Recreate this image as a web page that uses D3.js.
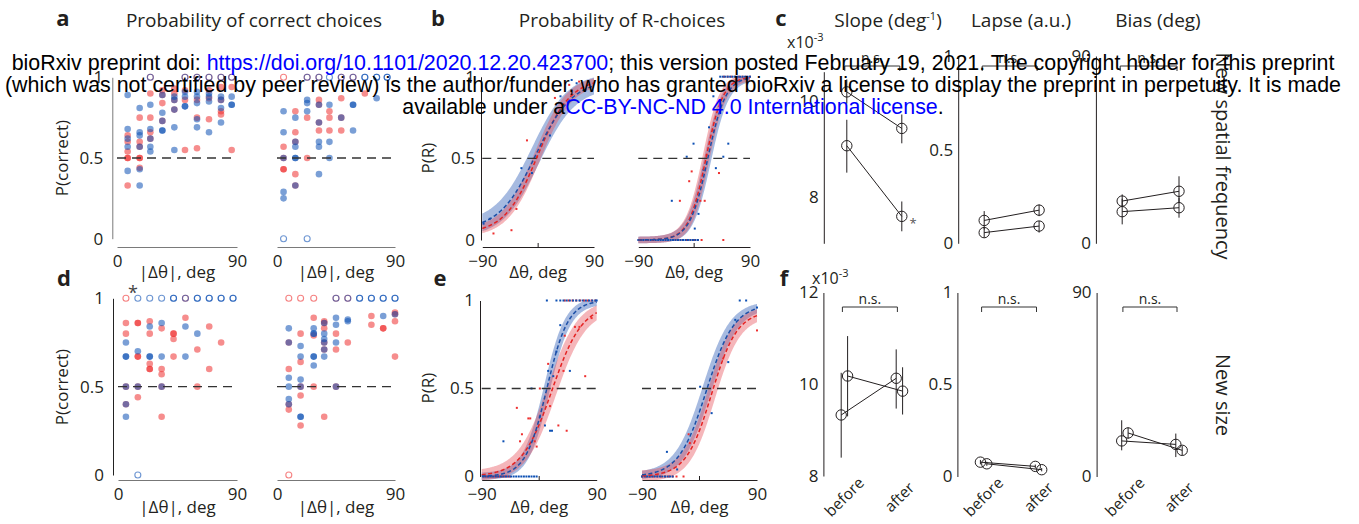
<!DOCTYPE html>
<html>
<head>
<meta charset="utf-8">
<script src="https://cdn.jsdelivr.net/npm/d3@7"></script>
<style>
  body { margin: 0; background: #fff; }
  svg text { font-family: "Open Sans", Lato, sans-serif; fill: #231f20; }
</style>
</head>
<body>
<svg id="chart"></svg>
<script>
// ---- panel a / d : P(correct) per |dtheta| bin ----
const aLeftBins = [8, 17, 25, 34, 43, 51, 60, 69, 78, 86];
const aRightBins = [5, 14, 23, 32, 40, 49, 58, 67, 76, 84];
const dLeftBins = [6, 15, 24, 33, 42, 51, 60, 69, 78, 87];
const dRightBins = [9, 18, 28, 36, 45, 54, 63, 72, 81, 90];

const aLeftRed = [[0.64, 0.60, 0.54, 0.50, 0.50, 0.33], [0.75, 0.60, 0.57, 0.50, 0.50, 0.44], [1, 0.90, 0.75, 0.66, 0.62],
  [0.92, 0.89, 0.84, 0.73], [0.93, 0.90, 0.86, 0.80], [1, 0.92, 0.86, 0.55], [1, 0.86, 0.75, 0.56],
  [1, 0.92, 0.87, 0.74], [1, 0.94, 0.86, 0.79, 0.77], [1, 0.94, 0.55]];
const aLeftBlue = [[0.89, 0.68, 0.62, 0.57, 0.42], [0.81, 0.66, 0.64, 0.57, 0.43, 0.33], [1, 0.83, 0.68, 0.62, 0.57, 0.54],
  [0.89, 0.78, 0.73, 0.67, 0.67], [0.88, 0.86, 0.80, 0.69, 0.55], [1, 0.91, 0.88, 0.82, 0.82], [1, 0.91, 0.88, 0.84, 0.74, 0.69],
  [1, 0.90, 0.88, 0.85, 0.66], [1, 0.88, 0.86, 0.81, 0.72], [1, 0.88, 0.83, 0.83]];
const aRightRed = [[1, 0.57, 0.50, 0.43, 0.43], [0.79, 0.66, 0.60, 0.40, 0.33], [1, 0.75, 0.50], [1, 0.86, 0.83, 0.72, 0.67],
  [0.79, 0.75, 0.67], [1, 0.87, 0.75, 0.67], [1], [0.90], [], []];
const aRightBlue = [[0.79, 0.66, 0.50, 0.29, 0.25, 0], [0.75, 0.60, 0.57, 0.50, 0.50, 0.33], [1, 0.86, 0.84, 0.79, 0],
  [1, 0.83, 0.72, 0.60, 0.57, 0.40], [1, 0.83, 0.60, 0.50], [1, 0.75], [1, 0.83, 0.83, 0.67], [1, 1], [1, 1, 0.87], [1, 1]];
const dLeftRed = [[1, 0.86, 0.80, 0.50, 0.40], [0.86, 0.86, 0.67, 0.67, 0.50, 0.44], [0.87, 0.80, 0.63, 0.60, 0.60],
  [0.83, 0.60, 0.57, 0.50, 0.33], [0.80, 0.80, 0.77, 0.67], [1, 0.89], [0.71, 0.50], [0.84, 0.60], [0.75], []];
const dLeftBlue = [[0.75, 0.67, 0.67, 0.50, 0.40, 0.33], [1, 0.70, 0.50, 0], [1, 0.84, 0.67, 0.67], [1, 0.86, 0.67, 0.50],
  [1, 1], [1, 0.84, 0.67], [1, 1, 0.80], [1, 1], [1, 1], [1, 1]];
const dRightRed = [[1, 0.75, 0.60, 0.40, 0.37, 0], [1, 0.80, 0.64, 0.50, 0.45, 0.28], [1, 0.89, 0.79, 0.50],
  [0.87, 0.86, 0.83, 0.75, 0.71, 0.33], [1, 0.80, 0.71, 0.50], [1, 0.75], [], [0.90, 0.85], [0.83, 0.83], [0.92, 0.91, 0.87, 0.67]];
const dRightBlue = [[0.83, 0.75, 0.55, 0.50, 0.43, 0.40], [0.73, 0.67, 0.54, 0.50, 0.33, 0.33], [0.83, 0.80, 0.80, 0.67, 0.67, 0.62],
  [0.86, 0.80, 0.77, 0.75, 0.71, 0.67], [1, 0.89, 0.85, 0.75, 0.50], [1, 0.88, 0.87], [1, 1], [1, 1], [1, 1, 0.90], [1, 1, 0.91]];

// ---- panel b / e : psychometric fits [bias, slope, guess, lapse] and CI band [shift, pad] ----
const bLeftRedFit = [-1, 0.038, 0.04, 0.01], bLeftBlueFit = [-4, 0.034, 0.06, 0.02];
const bRightRedFit = [19, 0.072, 0, 0], bRightBlueFit = [22, 0.069, 0, 0];
const eLeftRedFit = [20, 0.042, 0, 0.02], eLeftBlueFit = [12, 0.06, 0, 0];
const eRightRedFit = [19, 0.05, 0, 0.06], eRightBlueFit = [11, 0.046, 0, 0.02];
const bLeftRedBand = [4, 0.025], bLeftBlueBand = [6, 0.045];
const bRightRedBand = [5, 0.02], bRightBlueBand = [5, 0.02];
const eLeftRedBand = [6, 0.03], eLeftBlueBand = [4, 0.02];
const eRightRedBand = [5, 0.03], eRightBlueBand = [6, 0.02];

const bLeftRedDots = [[-72, 0.04], [-43, 0.06], [-35, 0.19], [-18, 0.61], [-2, 0.51], [27, 0.87], [50, 0.95], [66, 0.97]];
const bLeftBlueDots = [[-88, 0.10], [-78, 0.13], [-27, 0.44], [-10, 0.41], [19, 0.64], [36, 0.88], [54, 0.98], [62, 0.96]];
const bRightRedZero = [-34, -30, -26, -22, -18, -12, -6, 0, 6, 12, 47];
const bRightBlueZero = [-90, -86, -82, -78, -74, -70, -66, -62, -58, -54, -50, -46, -42, -38, -34, -30, -26, -22, -18, -14, -10, -6, -2, 2, 6];
const bRightRedOne = [48, 54, 60, 66, 72, 78, 84, 90];
const bRightBlueOne = [42, 46, 50, 54, 58, 62, 66, 70, 74, 78, 82, 86, 90];
const bRightRedMid = [[-23, 0.24], [-8, 0.36], [-4, 0.42], [4, 0.24], [10, 0.24], [17, 0.24], [20, 0.52], [31, 0.67], [40, 0.41]];
const bRightBlueMid = [[-36, 0.24], [-12, 0.51], [-1, 0.59], [1, 0.07], [7, 0.16], [15, 0.43], [24, 0.69], [31, 0.88], [35, 0.44], [47, 0.51], [55, 0.59]];
const eLeftRedZero = [-86, -82, -78, -74, -70, -66, -62, -58, -54, -50, -46];
const eLeftBlueZero = [-88, -84, -80, -76, -72, -68, -64, -60, -56, -52, -48, -44, -40, -36, -32, -28, -24, -20, -16, -12, -8, -4];
const eLeftRedOne = [40, 46, 52, 58, 64, 70, 76, 82, 88];
const eLeftBlueOne = [12, 27, 33, 38, 43, 48, 53, 58, 63, 68, 73, 78, 83, 88, 90];
const eLeftRedMid = [[-35, 0.39], [-30, 0.20], [-27, 0.24], [-17, 0.33], [-14, 0.33], [-7, 0.20], [-4, 0.17], [1, 0.50], [14, 0.64],
  [17, 0.40], [30, 0.29], [38, 0.60], [40, 0.80], [43, 0.26], [56, 0.85], [63, 0.85], [72, 0.57], [82, 0.90]];
const eLeftBlueMid = [[-56, 0.20], [-12, 0.50], [1, 0.34], [9, 0.29], [17, 0.26], [20, 0.26], [14, 0.60], [22, 0.57], [27, 0.71], [33, 0.86], [48, 0.60]];
const eRightRedZero = [-90, -84, -78, -72, -66, -60, -54, -48, -42, -36, -25];
const eRightBlueZero = [-90, -86, -82, -78, -74, -70, -66, -62, -58, -54, -50, -46, -42];
const eRightRedOne = [];
const eRightBlueOne = [63, 73];
const eRightRedMid = [[-17, 0.24], [-15, 0.19], [37, 0.67], [90, 0.83]];
const eRightBlueMid = [[-51, 0.14], [-35, 0.04], [1, 0.51], [19, 0.36], [45, 0.65], [56, 0.89], [90, 0.96]];

// ---- panel c / f : [mean, low, high] per group, before and after ----
const cSlopeBefore = [[10.19, 9.95, 10.45], [9.07, 8.51, 9.61]];
const cSlopeAfter = [[9.43, 9.12, 9.72], [7.60, 7.29, 7.91]];
const cLapseBefore = [[0.122, 0.074, 0.172], [0.057, 0.030, 0.083]];
const cLapseAfter = [[0.177, 0.145, 0.207], [0.092, 0.057, 0.119]];
const cBiasBefore = [[20.3, 17.5, 23.5], [15.2, 9.1, 21.4]];
const cBiasAfter = [[25.0, 19.5, 32.2], [17.1, 12.3, 21.9]];
const fSlopeBefore = [[9.33, 8.40, 10.25], [10.18, 9.30, 11.05]];
const fSlopeAfter = [[10.13, 9.47, 10.76], [9.85, 9.34, 10.37]];
const fLapseBefore = [[0.078, 0.066, 0.090], [0.069, 0.058, 0.080]];
const fLapseAfter = [[0.055, 0.045, 0.065], [0.037, 0.028, 0.046]];
const fBiasBefore = [[17.4, 12.8, 27.5], [21.3, 18.5, 24.0]];
const fBiasAfter = [[15.7, 9.5, 21.0], [12.8, 10.5, 15.0]];
const phases = ['before', 'after'];

const RED = '#ee2f2f', BLUE = '#0d50b4', INK = '#231f20';

const svg = d3.select('#chart').attr('width', 1359).attr('height', 524);

function styleAxis(g, color, size) {
  g.attr('font-family', null).attr('font-size', null);
  g.selectAll('path, line').attr('stroke', color).attr('stroke-width', 1);
  g.selectAll('text').attr('fill', INK).style('font-size', size + 'px');
}

function label(x, y, txt, opts = {}) {
  const t = svg.append('text').attr('x', x).attr('y', y).text(txt)
    .attr('text-anchor', opts.anchor || 'middle').style('font-size', (opts.size || 17) + 'px');
  if (opts.bold) t.style('font-weight', 'bold');
  if (opts.rotate) t.attr('transform', `rotate(${opts.rotate},${x},${y})`);
  return t;
}

function dashedHalf(x, y, x0, x1) {
  svg.append('line').attr('x1', x(x0)).attr('x2', x(x1)).attr('y1', y(0.5)).attr('y2', y(0.5))
    .attr('stroke', '#333').attr('stroke-width', 1.4).attr('stroke-dasharray', '9,6');
}

// ---------- scatter panels ----------
function scatter(x, y, bins, red, blue) {
  const g = svg.append('g');
  [[red, RED], [blue, BLUE]].forEach(([cols, col]) => {
    const pts = cols.flatMap((vals, i) => vals.map(v => ({ d: bins[i], v })));
    g.selectAll(null).data(pts).join('circle')
      .attr('cx', p => x(p.d)).attr('cy', p => y(p.v))
      .attr('r', p => (p.v === 0 || p.v === 1) ? 3 : 3.3)
      .attr('fill', p => (p.v === 0 || p.v === 1) ? 'none' : col)
      .attr('fill-opacity', 0.55)
      .attr('stroke', p => (p.v === 0 || p.v === 1) ? col : 'none')
      .attr('stroke-opacity', 0.6).attr('stroke-width', 1.1);
  });
}

function scatterRow(yRange, yAxisX, axisY, leftRange, rightRange, bins, data, yColor, xColor, labelY) {
  const y = d3.scaleLinear().domain([0, 1]).range(yRange);
  const xL = d3.scaleLinear().domain([0, 90]).range(leftRange);
  const xR = d3.scaleLinear().domain([0, 90]).range(rightRange);
  svg.append('g').attr('transform', `translate(${yAxisX},0)`)
    .call(d3.axisLeft(y).tickValues([0, 0.5, 1]).tickFormat(d => String(d)).tickSize(0).tickPadding(9))
    .call(g => styleAxis(g, yColor, 17));
  [xL, xR].forEach((x, i) => {
    svg.append('g').attr('transform', `translate(0,${axisY})`)
      .call(d3.axisBottom(x).tickValues([0, 90]).tickSize(0).tickPadding(8))
      .call(g => styleAxis(g, xColor, 17));
    scatter(x, y, bins[i], data[i][0], data[i][1]);
    dashedHalf(x, y, 0, 90);
    label(x(45), labelY, '|Δθ|, deg');
  });
  return y;
}

scatterRow([238.7, 77.3], 112.3, 247, [117, 237], [277, 395], [aLeftBins, aRightBins],
  [[aLeftRed, aLeftBlue], [aRightRed, aRightBlue]], '#7a7a7a', '#7a7a7a', 278);
scatterRow([475, 298.3], 113, 480, [118, 237], [277, 395], [dLeftBins, dRightBins],
  [[dLeftRed, dLeftBlue], [dRightRed, dRightBlue]], '#222', '#777', 513);

label(62, 158, 'P(correct)', { rotate: -90 }).attr('dy', '0.35em');
label(62, 387, 'P(correct)', { rotate: -90 }).attr('dy', '0.35em');
label(133, 299, '*', { size: 18 }).style('fill', '#444');

// ---------- psychometric panels ----------
const xs = d3.range(-90, 90.01, 1);
function psy(p, t) { return p[2] + (1 - p[2] - p[3]) / (1 + Math.exp(-p[1] * (t - p[0]))); }

function psyPanel(x, y, fits, bands, dots) {
  const g = svg.append('g');
  [[1, '#2a5ab4'], [0, '#e6505a']].forEach(([k, bandCol]) => {
    const f = fits[k], b = bands[k];
    const area = d3.area().x(t => x(t))
      .y0(t => y(Math.max(-0.02, psy([f[0] + b[0], f[1], f[2], f[3]], t) - b[1])))
      .y1(t => y(Math.min(1, psy([f[0] - b[0], f[1], f[2], f[3]], t) + b[1])));
    g.append('path').attr('d', area(xs)).attr('fill', bandCol).attr('fill-opacity', 0.42);
  });
  dashedHalf(x, y, -90, 90);
  [[0, RED], [1, BLUE]].forEach(([k, col]) => {
    const [zero, one, mid] = dots[k];
    const pts = zero.map(t => [t, 0]).concat(one.map(t => [t, 1]), mid);
    g.selectAll(null).data(pts).join('rect')
      .attr('x', p => x(p[0]) - 1).attr('y', p => y(p[1]) - 1)
      .attr('width', 2).attr('height', 2).attr('fill', col);
  });
  [[0, '#e42323'], [1, '#1c4ea6']].forEach(([k, col]) => {
    const line = d3.line().x(t => x(t)).y(t => y(psy(fits[k], t)));
    g.append('path').attr('d', line(xs)).attr('fill', 'none').attr('stroke', col)
      .attr('stroke-width', 1.5).attr('stroke-dasharray', '4,2.5');
  });
}

function psyRow(yRange, yAxisX, axisY, leftRange, rightRange, rows, labelY) {
  const y = d3.scaleLinear().domain([0, 1]).range(yRange);
  svg.append('g').attr('transform', `translate(${yAxisX},0)`)
    .call(d3.axisLeft(y).tickValues([0, 0.5, 1]).tickFormat(d => String(d)).tickSize(0).tickPadding(6))
    .call(g => styleAxis(g, INK, 17));
  [leftRange, rightRange].forEach((r, i) => {
    const x = d3.scaleLinear().domain([-90, 90]).range(r);
    svg.append('g').attr('transform', `translate(0,${axisY})`)
      .call(d3.axisBottom(x).tickValues([-90, 90]).tickSize(0).tickPadding(8))
      .call(g => styleAxis(g, INK, 17));
    svg.append('line').attr('x1', x(0)).attr('x2', x(0)).attr('y1', axisY).attr('y2', axisY - 4)
      .attr('stroke', INK);
    psyPanel(x, y, rows[i][0], rows[i][1], rows[i][2]);
    label(x(0), labelY, 'Δθ, deg');
  });
}

psyRow([240, 76.7], 481, 247, [482.3, 594], [638.3, 750], [
  [[bLeftRedFit, bLeftBlueFit], [bLeftRedBand, bLeftBlueBand], [[[], [], bLeftRedDots], [[], [], bLeftBlueDots]]],
  [[bRightRedFit, bRightBlueFit], [bRightRedBand, bRightBlueBand],
    [[bRightRedZero, bRightRedOne, bRightRedMid], [bRightBlueZero, bRightBlueOne, bRightBlueMid]]]
], 278);
psyRow([476.5, 300.5], 480, 480, [481.7, 596.7], [642, 757], [
  [[eLeftRedFit, eLeftBlueFit], [eLeftRedBand, eLeftBlueBand],
    [[eLeftRedZero, eLeftRedOne, eLeftRedMid], [eLeftBlueZero, eLeftBlueOne, eLeftBlueMid]]],
  [[eRightRedFit, eRightBlueFit], [eRightRedBand, eRightBlueBand],
    [[eRightRedZero, eRightRedOne, eRightRedMid], [eRightBlueZero, eRightBlueOne, eRightBlueMid]]]
], 513);

label(428, 158, 'P(R)', { rotate: -90 }).attr('dy', '0.35em');
label(428, 388, 'P(R)', { rotate: -90 }).attr('dy', '0.35em');

// ---------- fit parameter panels ----------
function paramPanel(axX, y, ticks, xb, xa, before, after, spread, bracketY, showLabels) {
  const x = d3.scalePoint().domain(phases).range([xb, xa]);
  svg.append('g').attr('transform', `translate(${axX},0)`)
    .call(d3.axisLeft(y).tickValues(ticks).tickFormat(d => String(d)).tickSize(0).tickPadding(5))
    .call(g => styleAxis(g, INK, 17));
  const g = svg.append('g').attr('stroke', INK).attr('fill', 'none');
  before.forEach((b, i) => {
    const a = after[i];
    const dx = spread * (i === 0 ? -1 : 1);
    const x0 = x('before') + dx, x1 = x('after') + dx;
    g.append('line').attr('x1', x0).attr('y1', y(b[0])).attr('x2', x1).attr('y2', y(a[0]));
    [[x0, b], [x1, a]].forEach(([cx, v]) => {
      g.append('line').attr('x1', cx).attr('x2', cx).attr('y1', y(v[1])).attr('y2', y(v[2]));
      g.append('circle').attr('cx', cx).attr('cy', y(v[0])).attr('r', 5.2);
    });
  });
  const bx0 = x('before') - 2, bx1 = x('after') - 2;
  svg.append('path').attr('d', `M${bx0},${bracketY + 5}V${bracketY}H${bx1}V${bracketY + 5}`)
    .attr('fill', 'none').attr('stroke', '#333');
  label((bx0 + bx1) / 2, bracketY - 3, 'n.s.', { size: 14 });
  if (showLabels) {
    phases.forEach(p => label(x(p), 497, p, { size: 15.5, rotate: -45 }).attr('dy', '0.35em'));
  }
}

const cSlopeY = d3.scaleLinear().domain([7.04, 10.61]).range([243.3, 71.7]);
const cUnitY = d3.scaleLinear().domain([0, 1]).range([243.3, 56]);
const cBiasY = d3.scaleLinear().domain([0, 90]).range([243.3, 56]);
paramPanel(823.8, cSlopeY, [8, 10], 846.8, 901.8, cSlopeBefore, cSlopeAfter, 0, 66, false);
paramPanel(958.2, cUnitY, [0, 0.5, 1], 984.2, 1039.1, cLapseBefore, cLapseAfter, 0, 66, false);
paramPanel(1095.9, cBiasY, [0, 90], 1122.2, 1179, cBiasBefore, cBiasAfter, 0, 66, false);
label(913, 228, '*', { size: 13 }).style('fill', '#555');

const fSlopeY = d3.scaleLinear().domain([8, 12]).range([476, 292.5]);
const fUnitY = d3.scaleLinear().domain([0, 1]).range([476.5, 292.5]);
const fBiasY = d3.scaleLinear().domain([0, 90]).range([476.5, 292.5]);
paramPanel(823.4, fSlopeY, [8, 10, 12], 844.4, 899.4, fSlopeBefore, fSlopeAfter, 3.2, 307, true);
paramPanel(957.4, fUnitY, [0, 0.5, 1], 983.6, 1038.5, fLapseBefore, fLapseAfter, 3.2, 307, true);
paramPanel(1096.6, fBiasY, [0, 90], 1124.9, 1179, fBiasBefore, fBiasAfter, 3.2, 307, true);

function sciLabel(x, y) {
  const t = svg.append('text').attr('x', x).attr('y', y).style('font-size', '16px');
  t.append('tspan').text('x10');
  t.append('tspan').text('-3').attr('dy', -7).style('font-size', '11px');
}
sciLabel(787, 48);
sciLabel(812, 284);

// titles and panel letters
label(254, 27, 'Probability of correct choices', { size: 19 });
label(622, 27, 'Probability of R-choices', { size: 19 });
const slopeT = label(888, 27, 'Slope (deg', { size: 19 });
slopeT.append('tspan').text('-1').attr('dy', -7).style('font-size', '11px');
slopeT.append('tspan').text(')').attr('dy', 7);
label(1021, 27, 'Lapse (a.u.)', { size: 19 });
label(1158, 27, 'Bias (deg)', { size: 19 });
[['a', 63, 26], ['b', 438, 26], ['c', 781, 26], ['d', 64, 286], ['e', 440, 286], ['f', 784, 286]]
  .forEach(([s, x, y]) => label(x, y, s, { size: 22, bold: true }));
label(1223, 156, 'New spatial frequency', { size: 20, rotate: 90 }).attr('dy', '0.35em');
label(1223, 395, 'New size', { size: 20, rotate: 90 }).attr('dy', '0.35em');

// preprint banner laid over the figure
const banner = [
  [['bioRxiv preprint doi: ', '#000'], ['https://doi.org/10.1101/2020.12.20.423700', '#0000ff'],
    ['; this version posted February 19, 2021. The copyright holder for this preprint', '#000']],
  [['(which was not certified by peer review) is the author/funder, who has granted bioRxiv a license to display the preprint in perpetuity. It is made', '#000']],
  [['available under a', '#000'], ['CC-BY-NC-ND 4.0 International license', '#0000ff'], ['.', '#000']]
];
banner.forEach((parts, i) => {
  const t = svg.append('text').attr('x', 673).attr('y', 70 + i * 22).attr('text-anchor', 'middle')
    .style('font-family', '"Liberation Sans", Arial, sans-serif').style('font-size', '21.4px');
  parts.forEach(([s, c]) => t.append('tspan').text(s).style('fill', c));
});
</script>
</body>
</html>
